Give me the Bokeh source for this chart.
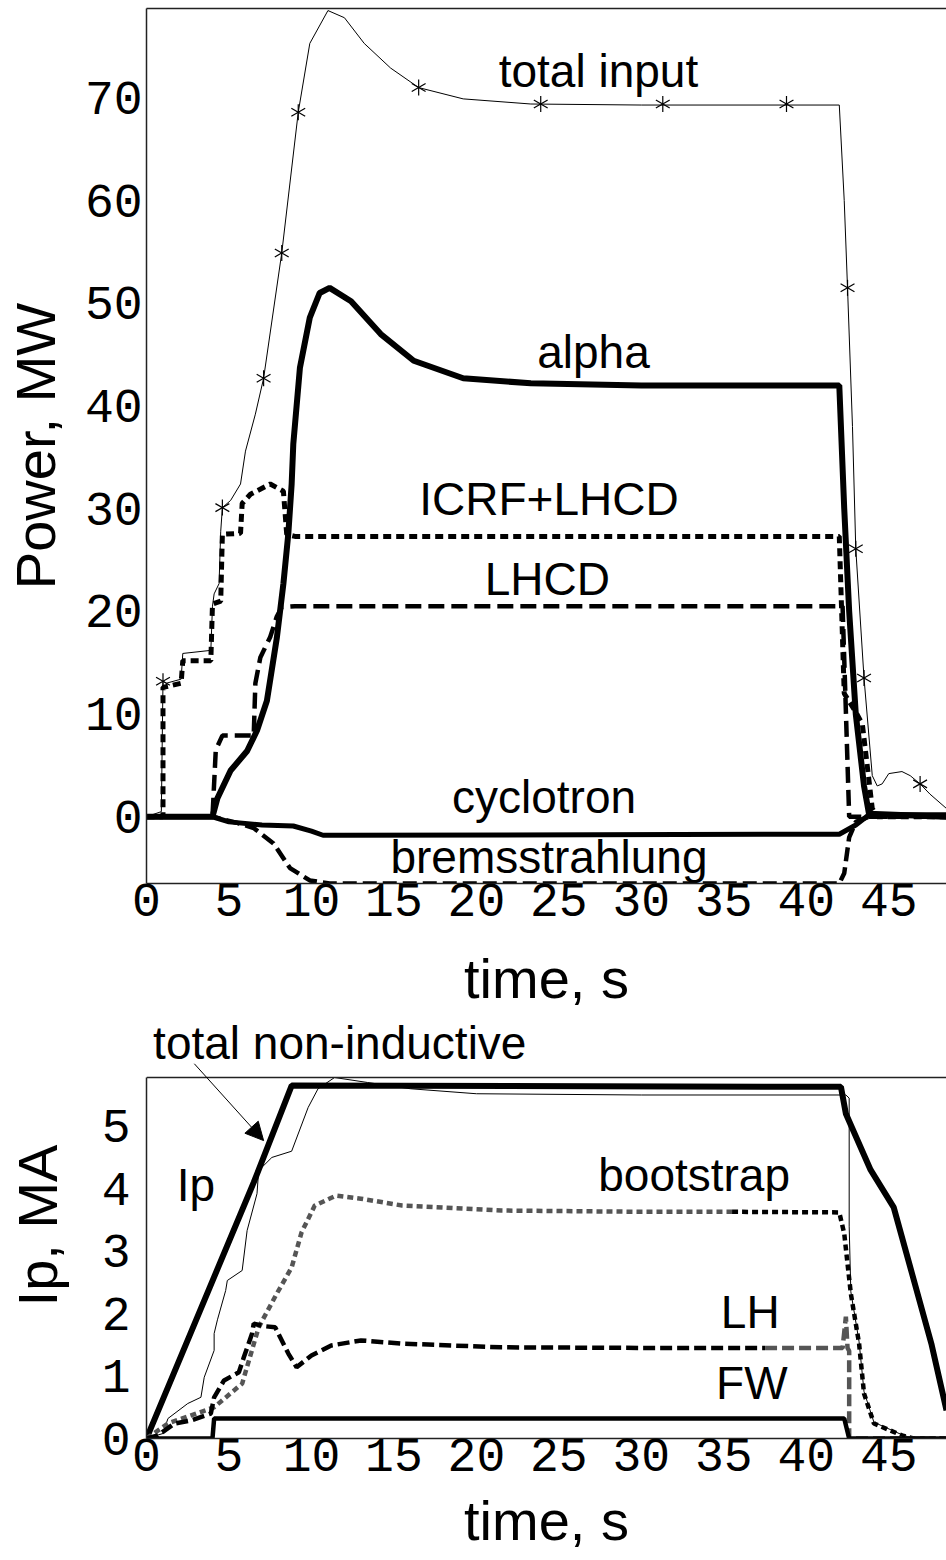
from bokeh.plotting import figure
from bokeh.layouts import column
from bokeh.models import LinearAxis, FixedTicker, Arrow, NormalHead, Range1d, Span
from bokeh.embed import file_html
from bokeh.resources import INLINE
from bokeh.core.properties import value
import math

# ---------------- top panel: power (MW) vs time (s) ----------------
t_total_input = [0, 0.9, 1.0, 1.2, 2.1, 2.2, 3.9, 4.0, 4.1, 4.4, 4.5, 4.6, 5.1, 5.7, 6.0, 6.6, 7.1,
                 8.2, 9.2, 9.9, 11.0, 12.0, 13.2, 14.8, 16.5, 19.2, 23.3, 30.0, 42.0, 42.3, 42.5,
                 42.8, 43.0, 43.5, 44.0, 44.3, 44.6, 45.0, 45.8, 46.3, 46.9, 47.5, 48.5]
p_total_input = [0, 0.5, 13.2, 13.0, 13.4, 15.9, 16.2, 20.5, 21.7, 22.7, 27.8, 30.1, 30.8, 32.4, 35.6,
                 39.2, 42.7, 54.9, 68.6, 75.3, 78.5, 77.8, 75.3, 72.9, 71.0, 69.9, 69.4, 69.3, 69.3,
                 60.0, 51.5, 38.0, 26.1, 13.5, 4.0, 3.0, 3.2, 4.2, 4.4, 4.0, 3.2, 2.2, 0.8]
t_input_marks = [1.0, 4.6, 7.1, 8.2, 9.2, 16.5, 23.9, 31.3, 38.8, 42.5, 43.0, 43.5, 46.9]
p_input_marks = [13.2, 30.1, 42.7, 54.9, 68.6, 71.0, 69.4, 69.4, 69.4, 51.5, 26.1, 13.5, 3.2]

t_alpha = [0, 4.0, 4.3, 5.1, 6.1, 6.7, 7.3, 7.9, 8.3, 8.6, 8.8, 8.9, 9.3, 9.9, 10.5, 11.1, 12.4,
           14.2, 16.2, 19.2, 23.3, 30.0, 42.0, 42.3, 42.6, 43.0, 43.5, 43.8, 48.5]
p_alpha = [0, 0, 1.8, 4.5, 6.4, 8.4, 11.3, 17.4, 22.7, 27.6, 32.4, 36.3, 43.7, 48.6, 51.0, 51.5, 50.2,
           47.0, 44.4, 42.7, 42.2, 42.0, 42.0, 30.0, 20.0, 10.0, 3.0, 0.3, 0]

t_icrf_lhcd = [0, 1.0, 1.0, 2.1, 2.2, 3.9, 4.0, 4.5, 4.6, 5.7, 5.8, 6.3, 7.5, 8.3, 8.5, 9.0, 42.0,
               42.3, 43.0, 43.4, 44.0, 44.3, 48.5]
p_icrf_lhcd = [0, 0, 12.6, 13.0, 15.2, 15.2, 20.7, 21.0, 27.5, 27.6, 30.5, 31.4, 32.4, 31.7, 27.5,
               27.3, 27.3, 12.0, 10.2, 9.0, 0.8, 0, 0]

t_lhcd = [0, 4.0, 4.2, 4.6, 6.5, 6.6, 6.9, 7.5, 7.9, 8.2, 9.0, 42.0, 42.2, 42.6, 48.5]
p_lhcd = [0, 0, 6.5, 7.9, 7.9, 13.0, 15.5, 17.5, 19.5, 20.4, 20.5, 20.5, 20.5, 0, 0]

t_cyclotron = [0, 4.0, 5.0, 7.0, 8.9, 10.0, 10.7, 12.0, 42.0, 43.0, 43.8, 48.5]
p_cyclotron = [0, 0, -0.5, -0.8, -0.9, -1.4, -1.8, -1.8, -1.7, -0.8, 0.2, 0.2]

t_brems = [0, 4.0, 5.5, 6.5, 7.7, 8.7, 9.9, 11.1, 42.0, 42.3, 42.6, 43.0, 43.8, 48.5]
p_brems = [0, 0, -0.6, -1.1, -2.6, -5.0, -6.2, -6.5, -6.5, -5.5, -2.0, -0.5, 0, 0]

top_label_text = ["total input", "alpha", "ICRF+LHCD", "LHCD", "cyclotron", "bremsstrahlung"]
top_label_x = [27.4, 27.1, 24.4, 24.3, 24.1, 24.4]
top_label_y = [71.0, 43.6, 29.3, 21.5, 0.3, -5.55]

power_ticks = [0, 10, 20, 30, 40, 50, 60, 70]
time_ticks = [0, 5, 10, 15, 20, 25, 30, 35, 40, 45]

# ---------------- bottom panel: currents (MA) vs time (s) ----------------
t_ip = [0, 6.5, 8.8, 42.1, 42.4, 43.9, 45.3, 46.4, 47.6, 48.5]
i_ip = [0, 4.1, 5.65, 5.63, 5.2, 4.3, 3.7, 2.65, 1.5, 0.45]

t_noninductive = [0, 1.0, 1.3, 2.5, 3.3, 3.5, 4.1, 4.1, 4.3, 4.8, 4.9, 5.8, 6.1, 6.7, 6.8, 7.6, 8.8,
                  9.8, 10.4, 11.4, 13.4, 16.0, 20.0, 30.0, 42.4, 42.6, 42.6, 42.7, 43.2, 43.5, 44.1,
                  45.8, 46.5, 48.5]
i_noninductive = [0, 0.08, 0.32, 0.56, 0.66, 0.98, 1.41, 1.68, 1.9, 2.37, 2.53, 2.69, 3.33, 3.92, 4.29,
                  4.5, 4.6, 5.3, 5.6, 5.78, 5.7, 5.6, 5.52, 5.5, 5.5, 5.45, 3.4, 2.35, 1.55, 0.75, 0.26,
                  0.06, 0, 0]

t_bootstrap = [0, 1.3, 4.1, 5.8, 6.8, 7.9, 8.8, 9.4, 10.2, 11.5, 13.0, 15.5, 21.5, 30.0, 35.5,
               42.0, 42.3, 42.7, 43.2, 43.5, 44.1, 45.8, 46.5, 48.5]
i_bootstrap = [0, 0.24, 0.5, 0.88, 1.78, 2.32, 2.74, 3.3, 3.73, 3.89, 3.84, 3.73, 3.65, 3.63, 3.63,
               3.62, 3.28, 2.32, 1.52, 0.72, 0.24, 0.05, 0, 0]
bootstrap_gray_until = 35.5

t_lh = [0, 0.7, 1.7, 2.7, 3.9, 4.1, 4.7, 5.6, 5.9, 6.4, 6.5, 7.1, 7.8, 8.6, 9.1, 10.0, 11.2, 13.0,
        15.4, 21.5, 30.0, 37.5, 42.2, 42.4, 42.5, 42.6, 42.6, 48.5]
i_lh = [0, 0.05, 0.24, 0.29, 0.4, 0.66, 0.93, 1.06, 1.3, 1.68, 1.84, 1.8, 1.78, 1.36, 1.14, 1.33, 1.49,
        1.57, 1.52, 1.46, 1.45, 1.45, 1.45, 1.95, 1.45, 1.4, 0, 0]
lh_black_until = 37.5

t_fw = [0, 4.0, 4.1, 42.3, 42.6, 48.5]
i_fw = [0, 0, 0.32, 0.32, 0, 0]

bottom_label_text = ["Ip", "bootstrap", "LH", "FW"]
bottom_label_x = [3.0, 33.2, 36.6, 36.7]
bottom_label_y = [3.78, 3.94, 1.76, 0.61]
current_ticks = [0, 1, 2, 3, 4, 5]
current_top = 5.78

GRAY = "#555555"
AXIS_COLOR = "#222222"
TEXT_SHIFT_PX = 17  # rendered alphabetic baseline sits this much low; compensate


def style_axes(p, xlabel, ylabel, x_stand, y_stand, xlab_stand, ylab_stand, yticks):
    p.xaxis.ticker = FixedTicker(ticks=time_ticks)
    p.yaxis.ticker = FixedTicker(ticks=yticks)
    for ax in (p.xaxis[0], p.yaxis[0]):
        ax.major_tick_out = 0
        ax.major_tick_in = 0
        ax.minor_tick_out = 0
        ax.minor_tick_in = 0
        ax.axis_line_color = AXIS_COLOR
        ax.axis_line_width = 1.5
        ax.major_label_text_font = "Liberation Mono"
        ax.major_label_text_font_size = "48px"
        ax.major_label_text_color = "black"
        ax.axis_label_text_font = "Liberation Sans"
        ax.axis_label_text_font_size = "56px"
        ax.axis_label_text_font_style = "normal"
        ax.axis_label_text_color = "black"
    p.xaxis.axis_label = xlabel
    p.yaxis.axis_label = ylabel
    p.xaxis.major_label_standoff = x_stand
    p.yaxis.major_label_standoff = y_stand
    p.xaxis.axis_label_standoff = xlab_stand
    p.yaxis.axis_label_standoff = ylab_stand
    p.grid.visible = False
    p.outline_line_color = None


def asterisks(p, xs, ys):
    for ang in (math.pi / 2, math.pi / 6, -math.pi / 6):
        p.scatter(xs, ys, marker="dash", size=16, angle=ang, line_color="black", line_width=1.2)


# ---------------- top figure ----------------
H1 = 1012
Y1 = (-6.5, 78.7)
FRAME1_H = 875
p1 = figure(width=946, height=H1, output_backend="svg", toolbar_location=None,
            x_range=Range1d(0, 48.5), y_range=Range1d(*Y1),
            min_border_left=146, min_border_right=0, min_border_top=8,
            min_border_bottom=H1 - 8 - FRAME1_H)
style_axes(p1, "time, s", "Power, MW", 0, 4, 28, 15, power_ticks)
p1.add_layout(LinearAxis(ticker=FixedTicker(ticks=[]), major_label_text_font_size="0px",
                         major_tick_out=0, major_tick_in=0, minor_tick_out=0, minor_tick_in=0,
                         axis_line_color=AXIS_COLOR, axis_line_width=1.5), "above")

p1.line(t_total_input, p_total_input, line_color="black", line_width=1)
asterisks(p1, t_input_marks, p_input_marks)
p1.line(t_alpha, p_alpha, line_color="black", line_width=6)
p1.line(t_icrf_lhcd, p_icrf_lhcd, line_color="black", line_width=5, line_dash="8 5")
p1.line(t_lhcd, p_lhcd, line_color="black", line_width=4.5, line_dash="16 7")
p1.line(t_cyclotron, p_cyclotron, line_color="black", line_width=5)
p1.line(t_brems, p_brems, line_color="black", line_width=4.5, line_dash="14 6")

shift1 = TEXT_SHIFT_PX * (Y1[1] - Y1[0]) / FRAME1_H
p1.text(top_label_x, [y + shift1 for y in top_label_y], text=top_label_text,
        text_font=value("Liberation Sans"), text_font_size="46px", text_align="center",
        text_baseline="alphabetic", text_color="black")

# ---------------- bottom figure ----------------
H2 = 1560 - H1
FRAME2_H = 1438 - H1
Y2 = (0, current_top * FRAME2_H / 361.0)
p2 = figure(width=946, height=H2, output_backend="svg", toolbar_location=None,
            x_range=Range1d(0, 48.5), y_range=Range1d(*Y2),
            min_border_left=146, min_border_right=0, min_border_top=0,
            min_border_bottom=H2 - FRAME2_H)
style_axes(p2, "time, s", "Ip, MA", 0, 16, 15, 30, current_ticks)
p2.yaxis.bounds = (0, current_top)
p2.add_layout(Span(location=current_top, dimension="width", line_color=AXIS_COLOR, line_width=1.5))

p2.line(t_ip, i_ip, line_color="black", line_width=6)
p2.line(t_noninductive, i_noninductive, line_color="black", line_width=1)

split_b = t_bootstrap.index(bootstrap_gray_until)
p2.line(t_bootstrap[:split_b + 1], i_bootstrap[:split_b + 1], line_color=GRAY, line_width=4.5,
        line_dash="6 4")
p2.line(t_bootstrap[split_b:], i_bootstrap[split_b:], line_color="black", line_width=4.5,
        line_dash="6 4")

split_l = t_lh.index(lh_black_until)
p2.line(t_lh[:split_l + 1], i_lh[:split_l + 1], line_color="black", line_width=4.5, line_dash="12 5")
p2.line(t_lh[split_l:], i_lh[split_l:], line_color=GRAY, line_width=4.5, line_dash="12 5")

p2.line(t_fw, i_fw, line_color="black", line_width=4.5)

shift2 = TEXT_SHIFT_PX * (Y2[1] - Y2[0]) / FRAME2_H
p2.text(bottom_label_x, [y + shift2 for y in bottom_label_y], text=bottom_label_text,
        text_font=value("Liberation Sans"), text_font_size="46px", text_align="center",
        text_baseline="alphabetic", text_color="black")
p2.text([0.4], [6.06 + shift2], text=["total non-inductive"], text_font=value("Liberation Sans"),
        text_font_size="46px", text_align="left", text_baseline="alphabetic", text_color="black")

p2.add_layout(Arrow(end=NormalHead(size=18, fill_color="black", line_color="black"),
                    x_start=2.9, y_start=6.0, x_end=7.1, y_end=4.77,
                    line_color="black", line_width=1))

layout = column(p1, p2, spacing=0)
open("out.html", "w").write(file_html(layout, INLINE))
